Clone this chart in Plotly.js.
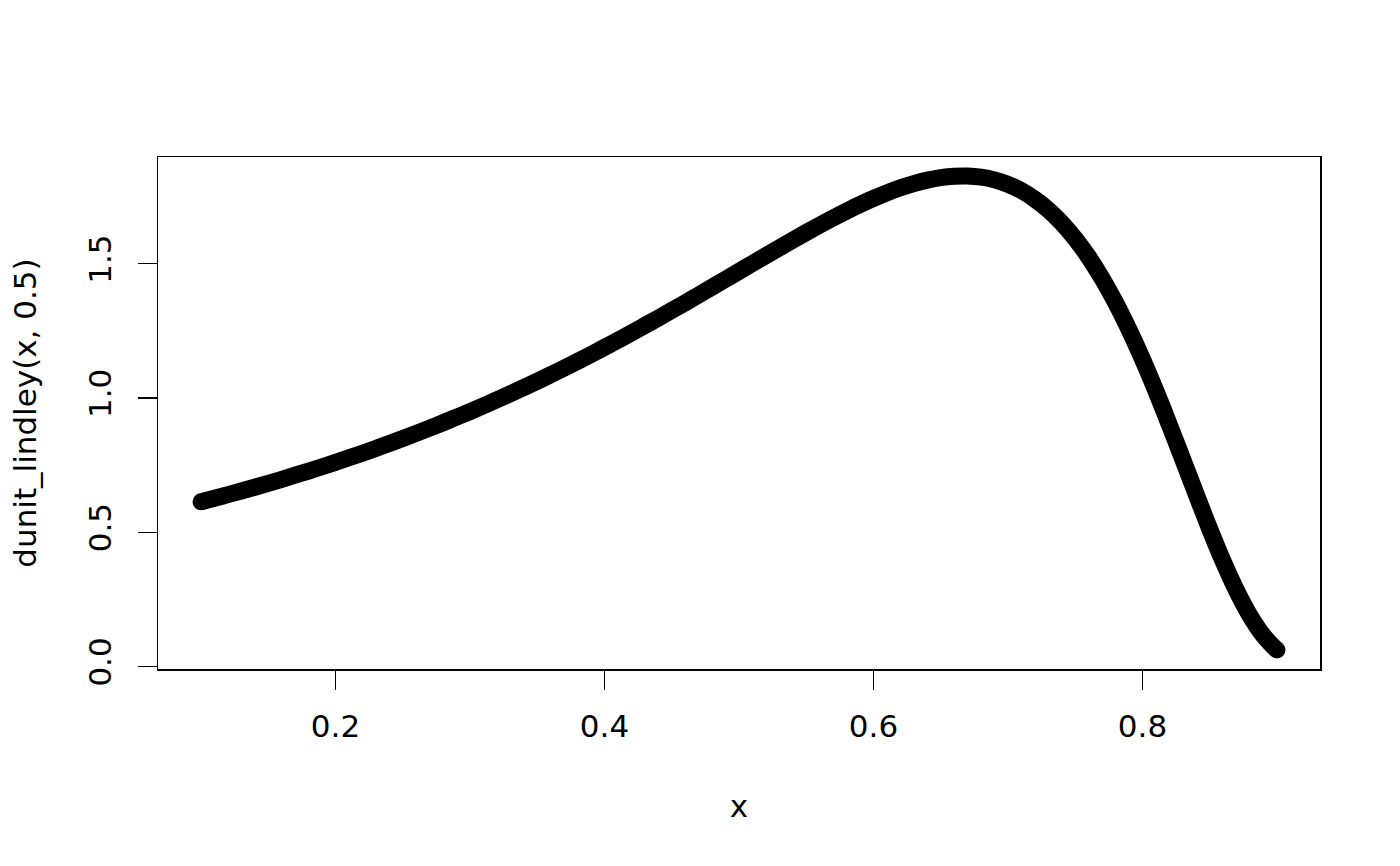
<!DOCTYPE html>
<html>
<head>
<meta charset="utf-8">
<script src="https://cdn.plot.ly/plotly-3.0.1.min.js"></script>
<style>html,body{margin:0;padding:0;background:#fff;}#chart{width:1400px;height:866px;}</style>
</head>
<body>
<div id="chart"></div>
<script>
// x values and dunit_lindley(x, 0.5) density values
const xValues = [0.10,0.11,0.12,0.13,0.14,0.15,0.16,0.17,0.18,0.19,0.20,0.21,0.22,0.23,0.24,0.25,0.26,0.27,0.28,0.29,0.30,0.31,0.32,0.33,0.34,0.35,0.36,0.37,0.38,0.39,0.40,0.41,0.42,0.43,0.44,0.45,0.46,0.47,0.48,0.49,0.50,0.51,0.52,0.53,0.54,0.55,0.56,0.57,0.58,0.59,0.60,0.61,0.62,0.63,0.64,0.65,0.66,0.67,0.68,0.69,0.70,0.71,0.72,0.73,0.74,0.75,0.76,0.77,0.78,0.79,0.80,0.81,0.82,0.83,0.84,0.85,0.86,0.87,0.88,0.89,0.90];
const yValues = [0.6137,0.6268,0.6402,0.6539,0.6680,0.6825,0.6973,0.7125,0.7281,0.7441,0.7605,0.7774,0.7947,0.8124,0.8306,0.8492,0.8683,0.8879,0.9080,0.9286,0.9496,0.9712,0.9933,1.0159,1.0390,1.0626,1.0868,1.1114,1.1366,1.1623,1.1885,1.2151,1.2422,1.2698,1.2977,1.3260,1.3546,1.3836,1.4127,1.4421,1.4715,1.5009,1.5302,1.5593,1.5881,1.6163,1.6439,1.6706,1.6961,1.7205,1.7432,1.7640,1.7827,1.7984,1.8113,1.8206,1.8258,1.8268,1.8224,1.8123,1.7958,1.7722,1.7402,1.7009,1.6519,1.5932,1.5246,1.4449,1.3551,1.2547,1.1447,1.0262,0.9005,0.7713,0.6406,0.5125,0.3915,0.2823,0.1891,0.1151,0.0617];
const xTicks = [0.2,0.4,0.6,0.8];
const xTickText = ["0.2","0.4","0.6","0.8"];
const yTicks = [0.0,0.5,1.0,1.5];
const yTickText = ["0.0","0.5","1.0","1.5"];
const xLabel = "x";
const yLabel = "dunit_lindley(x, 0.5)";

function padRange(arr){
  const lo = Math.min(...arr), hi = Math.max(...arr);
  const p = (hi - lo) * 0.04;
  return [lo - p, hi + p];
}

const font = {family: "DejaVu Sans, Liberation Sans, sans-serif", size: 31, color: "#000"};

const curve = {
  x: xValues, y: yValues, type: "scatter", mode: "lines",
  line: {color: "#000", width: 17, shape: "spline", smoothing: 1},
  hoverinfo: "skip", showlegend: false
};
const n = xValues.length;
const ends = {
  x: [xValues[0], xValues[n-1]], y: [yValues[0], yValues[n-1]],
  type: "scatter", mode: "markers",
  marker: {color: "#000", size: 17},
  hoverinfo: "skip", showlegend: false
};

const layout = {
  width: 1400, height: 866,
  margin: {l: 158, r: 80, t: 157, b: 197, pad: 0},
  paper_bgcolor: "#fff", plot_bgcolor: "#fff",
  font: font,
  showlegend: false,
  xaxis: {
    range: padRange(xValues), autorange: false,
    tickmode: "array", tickvals: xTicks, ticktext: xTickText,
    ticks: "outside", ticklen: 19, tickwidth: 1.5, tickcolor: "#000",
    ticklabelstandoff: 10,
    showline: true, mirror: true, linecolor: "#000", linewidth: 1.5,
    showgrid: false, zeroline: false,
    tickfont: font,
    title: {text: xLabel, font: font, standoff: 52}
  },
  yaxis: {
    range: padRange(yValues), autorange: false,
    tickmode: "array", tickvals: yTicks, ticktext: yTickText,
    ticks: "outside", ticklen: 19, tickwidth: 1.5, tickcolor: "#000",
    tickangle: -90, ticklabelstandoff: 14,
    showline: true, mirror: true, linecolor: "#000", linewidth: 1.5,
    showgrid: false, zeroline: false,
    tickfont: font,
    title: {text: yLabel, font: font, standoff: 36}
  }
};

Plotly.newPlot("chart", [curve, ends], layout, {staticPlot: true, displayModeBar: false});
</script>
</body>
</html>
